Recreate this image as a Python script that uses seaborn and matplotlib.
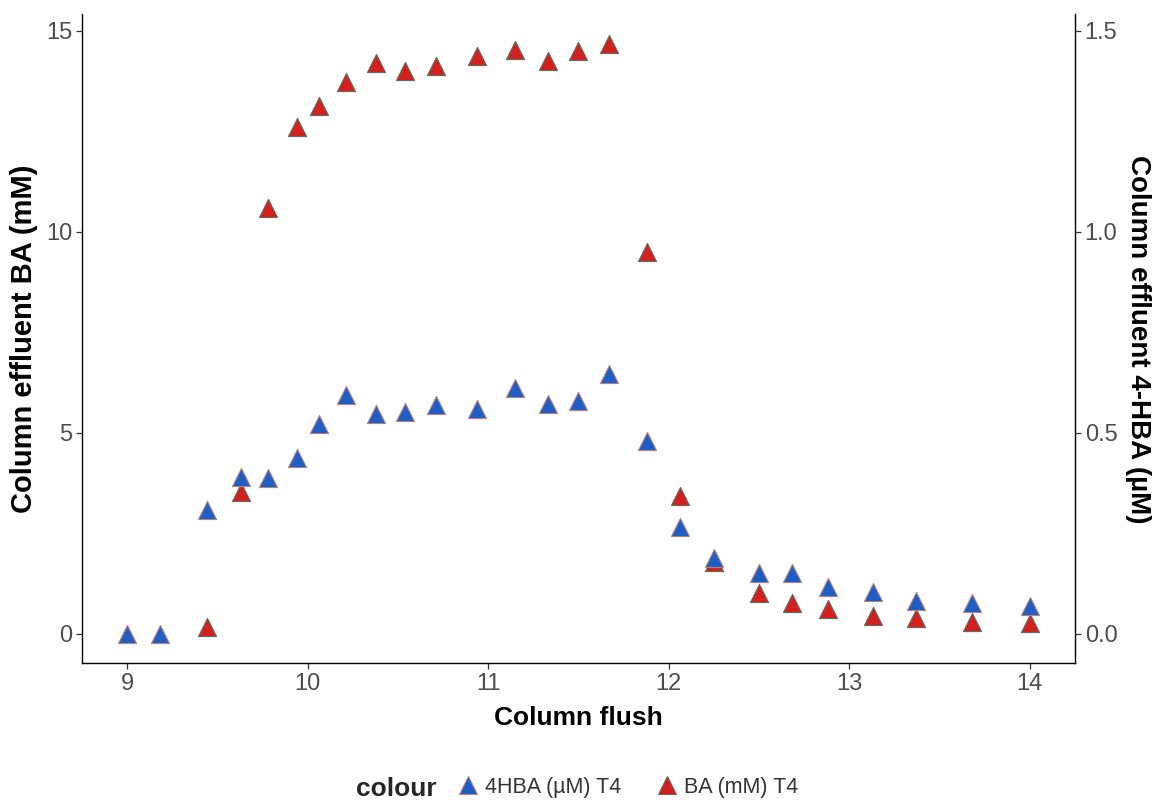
import numpy as np
import pandas as pd
import matplotlib
matplotlib.use("Agg")
import matplotlib.pyplot as plt
from matplotlib.lines import Line2D
import seaborn as sns

# column flush number for each sample
flush_hba = [9.0, 9.18, 9.44, 9.63, 9.78, 9.94, 10.06, 10.21, 10.38, 10.54, 10.71, 10.94, 11.15,
             11.33, 11.50, 11.67, 11.88, 12.06, 12.25, 12.50, 12.68, 12.88, 13.13, 13.37, 13.68, 14.0]
hba_uM = [0.0, 0.0, 0.308, 0.39, 0.388, 0.438, 0.522, 0.595, 0.547, 0.552, 0.570, 0.560, 0.612,
          0.572, 0.580, 0.647, 0.480, 0.266, 0.189, 0.152, 0.152, 0.117, 0.105, 0.082, 0.077, 0.070]

flush_ba = [9.44, 9.63, 9.78, 9.94, 10.06, 10.21, 10.38, 10.54, 10.71, 10.94, 11.15, 11.33,
            11.50, 11.67, 11.88, 12.06, 12.25, 12.50, 12.68, 12.88, 13.13, 13.37, 13.68, 14.0]
ba_mM = [0.17, 3.53, 10.6, 12.6, 13.13, 13.73, 14.2, 14.0, 14.13, 14.38, 14.53, 14.25,
         14.5, 14.68, 9.5, 3.43, 1.79, 1.02, 0.77, 0.62, 0.45, 0.40, 0.30, 0.27]

labels = ["4HBA (µM) T4", "BA (mM) T4"]
face = {"4HBA (µM) T4": "#1f5fc4", "BA (mM) T4": "#d41f1f"}
edge = {"4HBA (µM) T4": "#b88080", "BA (mM) T4": "#5a7062"}

# secondary axis is left axis / 10
sec_scale = 10.0

df_hba = pd.DataFrame({"flush": flush_hba, "value": np.array(hba_uM) * sec_scale, "colour": labels[0]})
df_ba = pd.DataFrame({"flush": flush_ba, "value": ba_mM, "colour": labels[1]})

sns.set_theme(style="white")
plt.rcParams["font.family"] = ["Liberation Sans", "DejaVu Sans"]

fig = plt.figure(figsize=(11.55, 8), dpi=100)
ax = fig.add_axes([0.071, 0.171, 0.8597, 0.811])

# red first, blue drawn on top
for d, lab in [(df_ba, labels[1]), (df_hba, labels[0])]:
    sns.scatterplot(data=d, x="flush", y="value", ax=ax, marker="^", s=170,
                    color=face[lab], edgecolor=edge[lab], linewidth=0.8, legend=False)

ax.set_xlim(8.75, 14.25)
ax.set_ylim(-0.73, 15.41)
ax.set_xticks([9, 10, 11, 12, 13, 14])
ax.set_yticks([0, 5, 10, 15])

ax.spines["top"].set_visible(False)
ax.spines["right"].set_visible(False)
for s in ["left", "bottom"]:
    ax.spines[s].set_color("black")
    ax.spines[s].set_linewidth(1.0)

ax.tick_params(axis="both", direction="out", length=4, width=0.9, color="#333333",
               labelsize=17, labelcolor="#4d4d4d", pad=3, left=True, bottom=True)
ax.set_xlabel("Column flush", fontsize=19, fontweight="bold", color="black", labelpad=8)
ax.set_ylabel("Column effluent BA (mM)", fontsize=21, fontweight="bold", color="black", labelpad=6)

sec = ax.secondary_yaxis("right", functions=(lambda y: y / sec_scale, lambda y: y * sec_scale))
sec.set_yticks([0.0, 0.5, 1.0, 1.5])
sec.set_yticklabels(["0.0", "0.5", "1.0", "1.5"])
sec.spines["right"].set_color("black")
sec.spines["right"].set_linewidth(1.0)
sec.tick_params(axis="y", direction="out", length=4, width=0.9, color="#333333",
                labelsize=17, labelcolor="#4d4d4d", pad=3, right=True)
sec.set_ylabel("Column effluent 4-HBA (µM)", fontsize=20, fontweight="bold", color="black",
               rotation=270, labelpad=24)

# legend along the bottom
handles = [Line2D([], [], linestyle="none", marker="^", markersize=13,
                  markerfacecolor=face[l], markeredgecolor=edge[l], markeredgewidth=0.8)
           for l in labels]
fig.text(0.378, 0.014, "colour", fontsize=19, fontweight="bold", ha="right", va="center")
fig.legend(handles, labels, loc="center left", bbox_to_anchor=(0.392, 0.016), ncol=2,
           frameon=False, fontsize=15.5, handletextpad=0.3, columnspacing=1.6,
           handlelength=1.0, labelcolor="#333333", borderaxespad=0.0, borderpad=0.2)

fig.savefig("out.png", dpi=100)
